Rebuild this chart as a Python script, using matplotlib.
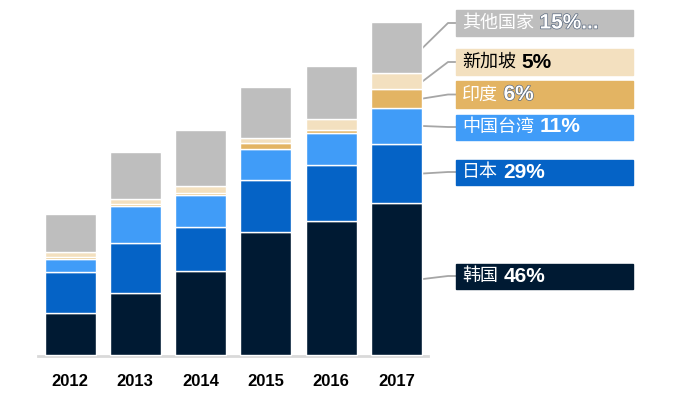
import matplotlib.pyplot as plt
import matplotlib.patheffects as pe
from matplotlib.patches import Rectangle

years = ["2012", "2013", "2014", "2015", "2016", "2017"]
korea = [42, 62, 84, 123, 134, 152]
japan = [41, 50, 44, 52, 56, 59]
taiwan = [13, 37, 32, 31, 32, 36]
india = [2, 2, 2, 6, 3, 19]
singapore = [5, 5, 7, 5, 11, 16]
others = [38, 47, 56, 51, 53, 51]

names = ["韩国", "日本", "中国台湾", "印度", "新加坡", "其他国家"]
shares = ["46%", "29%", "11%", "6%", "5%", "15%..."]

colors = ["#001a33", "#0563c6", "#409cf8", "#e3b463", "#f3e0bf", "#bebebe"]
text_colors = ["white", "white", "white", "white", "black", "white"]
# label boxes (top, bottom) in pixels from the top of the picture
box_rows = [(263.5, 288.5), (159.5, 184.5), (114.5, 139.5),
            (81, 108), (49, 75), (10, 36)]

CJK = ["Noto Sans CJK SC", "DejaVu Sans"]
LATIN = ["Liberation Sans", "DejaVu Sans"]
BASE = 355  # baseline, pixels from top


def run():
    fig = plt.figure(figsize=(6.88, 3.98), dpi=100)
    ax = fig.add_axes([0, 0, 1, 1])
    ax.set_xlim(0, 688)
    ax.set_ylim(-43, BASE)
    ax.axis("off")

    xs = [70 + 65.3 * i for i in range(len(years))]
    series = [korea, japan, taiwan, india, singapore, others]
    bottom = [0] * len(years)
    mids = []
    for vals, c in zip(series, colors):
        ax.bar(xs, vals, width=51, bottom=bottom, color=c,
               edgecolor="white", linewidth=1, zorder=2)
        mids.append(bottom[-1] + vals[-1] / 2)
        bottom = [b + v for b, v in zip(bottom, vals)]

    ax.plot([38, 428], [-1, -1], color="#d9d9d9", lw=2, zorder=1)

    for x, yr in zip(xs, years):
        ax.text(x, -27, yr, ha="center", va="center", fontsize=12,
                fontweight="bold", family=LATIN, color="black")

    # callout boxes for the 2017 bar
    x_start = xs[-1] + 26.5
    for i, name in enumerate(names):
        top, bot = box_rows[i]
        y0, y1 = BASE - bot, BASE - top
        yc = (y0 + y1) / 2
        ax.add_patch(Rectangle((456, y0), 177, y1 - y0, color=colors[i], zorder=2))
        ax.plot([x_start, 448, 456], [mids[i], yc, yc], color="#a6a6a6",
                lw=1.3, zorder=1)
        t = ax.text(462, yc, name, ha="left", va="center", fontsize=13,
                    family=CJK, fontweight="light", color=text_colors[i], zorder=3)
        p = ax.annotate(shares[i], xy=(1, 0.5), xycoords=t, xytext=(4, 0),
                        textcoords="offset points", ha="left", va="center",
                        fontsize=15, fontweight="bold", family=LATIN,
                        color=text_colors[i], zorder=3)
        if name in ("其他国家", "印度"):
            p.set_path_effects([pe.withStroke(linewidth=1.0, foreground="#5a6a80")])

    fig.savefig("out.png", dpi=100)


if __name__ == "__main__":
    run()
